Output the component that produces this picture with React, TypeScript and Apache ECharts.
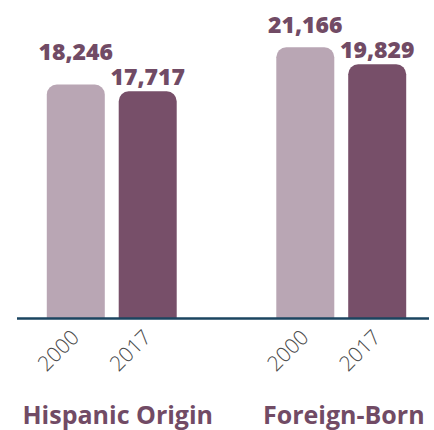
import React, { useEffect, useRef } from "react";
import * as echarts from "echarts";

const categories = ["Hispanic Origin", "Foreign-Born"];
const years = ["2000", "2017"];
const values2000 = [18246, 21166];
const values2017 = [17717, 19829];

const LIGHT = "#b9a6b4";
const DARK = "#774f69";
const TEXT = "#714b65";
const FONT = "'Open Sans', Lato, sans-serif";

export default function App() {
  const ref = useRef<HTMLDivElement>(null);
  useEffect(() => {
    if (!ref.current) return;
    document.body.style.margin = "0";
    document.body.style.overflow = "hidden";
    const chart = echarts.init(ref.current, undefined, { renderer: "svg" });
    const fmt = (v: number) => v.toLocaleString("en-US");
    const valueLabel = (distance: number) => ({
      show: true,
      position: "top",
      distance,
      color: TEXT,
      fontFamily: FONT,
      fontSize: 23,
      fontWeight: 800,
      formatter: (p: any) => fmt(p.value),
    });
    const yearData: number[][] = [];
    categories.forEach((_, ci) => years.forEach((__, yi) => yearData.push([ci, yi])));
    const catPad = [12, 5];
    chart.setOption({
      animation: false,
      grid: {
        left: -3,
        width: 459,
        top: 11,
        bottom: 112,
        containLabel: false,
        outerBoundsMode: "none",
      },
      xAxis: {
        type: "category",
        data: categories.map((c, i) => ({
          value: c,
          textStyle: { padding: [0, 0, 0, catPad[i]] },
        })),
        axisLine: { show: false },
        axisTick: { show: false },
        axisLabel: {
          interval: 0,
          hideOverlap: false,
          margin: 83,
          color: TEXT,
          fontFamily: FONT,
          fontSize: 25,
          fontWeight: 700,
        },
      },
      yAxis: {
        type: "value",
        min: 0,
        max: 24000,
        show: false,
        splitLine: { show: false },
      },
      graphic: [
        {
          type: "line",
          shape: { x1: 17, y1: 318.5, x2: 429, y2: 318.5 },
          style: { stroke: "#1b4560", lineWidth: 2.5 },
          z: 10,
        },
      ],
      series: [
        {
          type: "bar",
          name: "2000",
          barWidth: 58,
          barGap: "24%",
          itemStyle: { color: LIGHT, borderRadius: [10, 10, 0, 0] },
          data: values2000.map((v, i) => ({
            value: v,
            label: valueLabel(i === 0 ? 22 : 12),
          })),
        },
        {
          type: "bar",
          name: "2017",
          barWidth: 58,
          itemStyle: { color: DARK, borderRadius: [10, 10, 0, 0] },
          label: valueLabel(4),
          data: values2017,
        },
        {
          type: "custom",
          silent: true,
          data: yearData,
          renderItem: (params: any, api: any) => {
            const ci = api.value(0);
            const yi = api.value(1);
            const p = api.coord([ci, 0]);
            const off = (yi === 0 ? -1 : 1) * 36;
            return {
              type: "text",
              x: p[0] + off - 1,
              y: p[1] + 15,
              rotation: Math.PI / 4,
              style: {
                text: years[yi],
                align: "right",
                verticalAlign: "middle",
                fill: "#4a4a4a",
                fontFamily: FONT,
                fontSize: 21,
                fontWeight: 300,
              },
            };
          },
        },
      ],
    });
    return () => chart.dispose();
  }, []);
  return <div ref={ref} style={{ width: 434, height: 430 }} />;
}
